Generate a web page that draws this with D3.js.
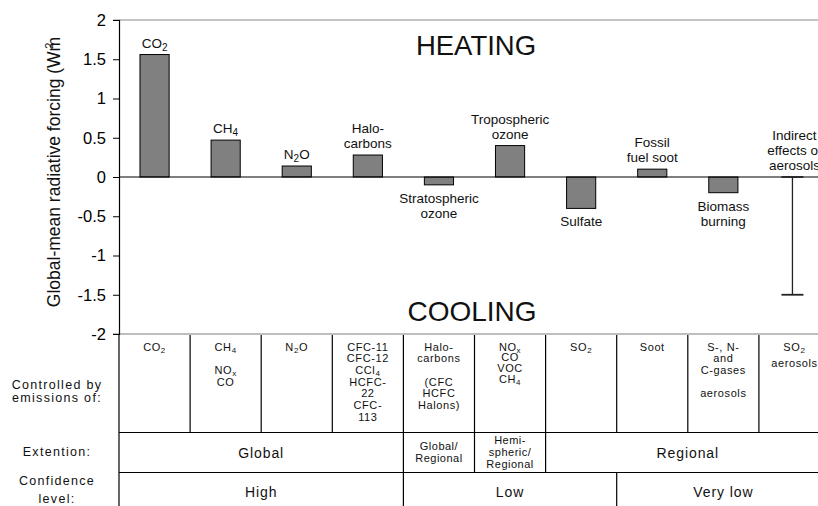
<!DOCTYPE html>
<html><head><meta charset="utf-8">
<script src="https://cdn.jsdelivr.net/npm/d3@7"></script>
<style>
body{margin:0;background:#fff;overflow:hidden}
svg{display:block;font-family:"Liberation Sans",Arial,sans-serif}
</style>
</head><body><svg id="c" width="818" height="506"></svg>
<script>
// ---------- data ----------
const categories = ["CO2","CH4","N2O","Halocarbons","Stratospheric ozone","Tropospheric ozone","Sulfate","Fossil fuel soot","Biomass burning","Indirect effects of aerosols"];
const values = [1.56, 0.47, 0.14, 0.28, -0.10, 0.40, -0.40, 0.10, -0.20, null];
const errorCategory = "Indirect effects of aerosols";
const errorRange = [0, -1.5];
const barLabels = [["CO_2"],["CH_4"],["N_2O"],["Halo-","carbons"],["Stratospheric","ozone"],["Tropospheric","ozone"],["Sulfate"],["Fossil","fuel soot"],["Biomass","burning"],["Indirect","effects of","aerosols"]];
const yTicks = [2, 1.5, 1, 0.5, 0, -0.5, -1, -1.5, -2];
const yTitle = "Global-mean radiative forcing (Wm";
const emissions = [["CO_2"],["CH_4","","NO_x","CO"],["N_2O"],["CFC-11","CFC-12","CCl_4","HCFC-","22","CFC-","113"],["Halo-","carbons","","(CFC","HCFC","Halons)"],["NO_x","CO","VOC","CH_4"],["SO_2"],["Soot"],["S-, N-","and","C-gases","","aerosols"],["SO_2","aerosols"]];
const extentLabels = [["Global"],["Global/","Regional"],["Hemi-","spheric/","Regional"],["Regional"]];
const extentSpans = [[0,3],[4,4],[5,5],[6,9]];
const confidenceLabels = ["High","Low","Very low"];
const confidenceSpans = [[0,3],[4,6],[7,9]];
const rowLabels = [["Controlled by","emissions of:"],["Extention:"],["Confidence","level:"]];

// ---------- layout ----------
const svg = d3.select("#c");
const x = d3.scaleBand().domain(categories).range([119, 830]).padding(0);
const y = d3.scaleLinear().domain([-2, 2]).range([334, 20]);
const bw = x.bandwidth();
const rows = [[334, 432.5], [432.5, 472.5], [472.5, 520]];

// helper: write text with "_x" subscripts
function rich(sel, str, subSize, shift) {
  const parts = str.split(/_(\w)/);
  let pend = 0;
  parts.forEach((p, i) => {
    if (p === "") return;
    if (i % 2 === 1) {
      sel.append("tspan").attr("font-size", subSize).attr("dy", shift - pend).text(p);
      pend = shift;
    } else {
      const t = sel.append("tspan").text(p);
      if (pend) { t.attr("dy", -pend); pend = 0; }
    }
  });
}

// gray frame lines
svg.append("line").attr("x1", 113).attr("x2", 830).attr("y1", y(2)).attr("y2", y(2))
  .attr("stroke", "#b0b0b0").attr("stroke-width", 1.5);
svg.append("line").attr("x1", 113).attr("x2", 830).attr("y1", y(-2)).attr("y2", y(-2))
  .attr("stroke", "#a8a8a8").attr("stroke-width", 1.5);

// y axis
const ya = svg.append("g").attr("transform", "translate(119,0)")
  .call(d3.axisLeft(y).tickValues(yTicks).tickSize(6).tickPadding(7).tickFormat(d => String(d)));
ya.select(".domain").attr("stroke", "#000").attr("stroke-width", 1.2);
ya.selectAll(".tick line").attr("stroke", "#000");
ya.selectAll(".tick text").attr("font-size", 16.5).attr("font-family", "Liberation Sans, Arial, sans-serif").attr("fill", "#000");

// y title
const yt = svg.append("text").attr("transform", "translate(60,172) rotate(-90)")
  .attr("text-anchor", "middle").attr("font-size", 17.5).attr("fill", "#111");
yt.append("tspan").text(yTitle);
yt.append("tspan").attr("font-size", 11).attr("dx", -12).attr("dy", -7).text("2");

// bars
const bwBar = bw * 0.41;
const data = categories.map((c, i) => ({c, v: values[i], lab: barLabels[i]}));
svg.append("g").selectAll("rect").data(data.filter(d => d.v !== null)).join("rect")
  .attr("x", d => x(d.c) + bw / 2 - bwBar / 2)
  .attr("width", bwBar)
  .attr("y", d => Math.min(y(d.v), y(0)))
  .attr("height", d => Math.abs(y(d.v) - y(0)))
  .attr("fill", "#808080").attr("stroke", "#000").attr("stroke-width", 1);

// zero line
svg.append("line").attr("x1", 119).attr("x2", 830).attr("y1", y(0)).attr("y2", y(0))
  .attr("stroke", "#000").attr("stroke-width", 1.2);

// error bar
const ex = x(errorCategory) + bw / 2 - 2;
const eg = svg.append("g").attr("stroke", "#222").attr("stroke-width", 1.3);
eg.append("line").attr("x1", ex).attr("x2", ex).attr("y1", y(errorRange[0])).attr("y2", y(errorRange[1]));
errorRange.forEach(v => eg.append("line").attr("x1", ex - 11).attr("x2", ex + 11).attr("y1", y(v)).attr("y2", y(v)).attr("stroke-width", 1.8));

// bar labels
const lh = 15;
data.forEach(d => {
  const v = d.v === null ? 0 : d.v;
  const cx = x(d.c) + bw / 2;
  const n = d.lab.length;
  d.lab.forEach((line, k) => {
    let by;
    if (v >= 0) by = y(v) - 7 - (n - 1 - k) * lh;
    else by = y(v) + 18 + k * lh;
    const t = svg.append("text").attr("x", cx).attr("y", by).attr("text-anchor", "middle")
      .attr("font-size", 13.5).attr("fill", "#111");
    rich(t, line, 10, 3);
  });
});

// HEATING / COOLING
svg.append("text").attr("x", 476).attr("y", 55).attr("text-anchor", "middle").attr("font-size", 27.5).attr("fill", "#111").text("HEATING");
svg.append("text").attr("x", 472).attr("y", 321).attr("text-anchor", "middle").attr("font-size", 28).attr("fill", "#111").text("COOLING");

// ---------- table ----------
const tg = svg.append("g").attr("stroke", "#000").attr("stroke-width", 1.2);
[rows[0][1], rows[1][1]].forEach(yy => tg.append("line").attr("x1", 119).attr("x2", 830).attr("y1", yy).attr("y2", yy));
tg.append("line").attr("x1", 119).attr("x2", 119).attr("y1", rows[0][0]).attr("y2", 506);
categories.slice(1).forEach(c => tg.append("line").attr("x1", x(c)).attr("x2", x(c)).attr("y1", rows[0][0] + 1).attr("y2", rows[0][1]));
extentSpans.slice(1).forEach(s => { const xx = x(categories[s[0]]); tg.append("line").attr("x1", xx).attr("x2", xx).attr("y1", rows[1][0]).attr("y2", rows[1][1]); });
confidenceSpans.slice(1).forEach(s => { const xx = x(categories[s[0]]); tg.append("line").attr("x1", xx).attr("x2", xx).attr("y1", rows[2][0]).attr("y2", rows[2][1]); });

// emissions cells
emissions.forEach((lines, i) => {
  const cx = x(categories[i]) + bw / 2;
  const sp = i === 5 ? 10.8 : (i === 9 ? 16 : 11.7);
  lines.forEach((line, k) => {
    if (!line) return;
    const t = svg.append("text").attr("x", cx).attr("y", 350.5 + k * sp).attr("text-anchor", "middle")
      .attr("font-size", 11).style("letter-spacing", "0.6px").attr("fill", "#111");
    rich(t, line, 8, 2);
  });
});

function spanCenter(s) { return (x(categories[s[0]]) + x(categories[s[1]]) + bw) / 2; }

// extent cells
extentLabels.forEach((lines, i) => {
  const cx = spanCenter(extentSpans[i]);
  const big = lines.length === 1;
  const fs = big ? 14 : 11;
  const lsp = 12;
  const mid = (rows[1][0] + rows[1][1]) / 2;
  const start = mid + fs * 0.36 - (lines.length - 1) * lsp / 2;
  lines.forEach((line, k) => {
    svg.append("text").attr("x", cx).attr("y", start + k * lsp).attr("text-anchor", "middle")
      .attr("font-size", fs).style("letter-spacing", big ? "0.9px" : "0.5px").attr("fill", "#111").text(line);
  });
});

// confidence cells
confidenceLabels.forEach((lab, i) => {
  svg.append("text").attr("x", spanCenter(confidenceSpans[i])).attr("y", 497).attr("text-anchor", "middle")
    .attr("font-size", 14).style("letter-spacing", "0.9px").attr("fill", "#111").text(lab);
});

// row labels
const rowBase = [[389, 402], [456], [485, 503]];
rowLabels.forEach((lines, i) => {
  lines.forEach((line, k) => {
    svg.append("text").attr("x", 57).attr("y", rowBase[i][k]).attr("text-anchor", "middle")
      .attr("font-size", 12.5).style("letter-spacing", "1.3px").attr("fill", "#111").text(line);
  });
});
</script>
</body></html>
